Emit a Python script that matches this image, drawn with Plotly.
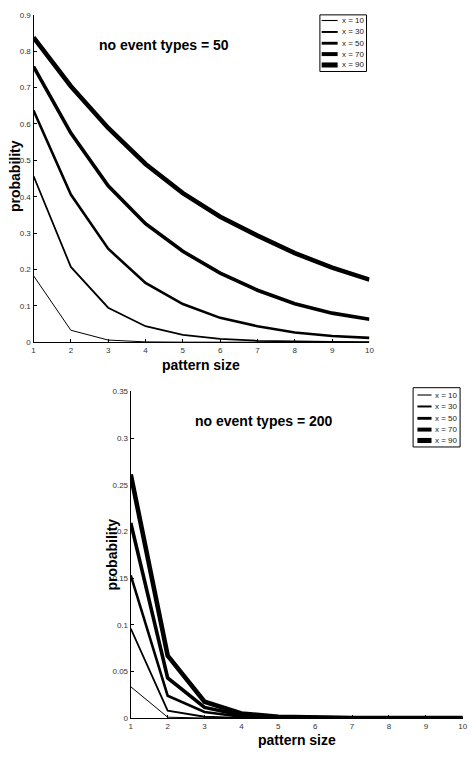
import plotly.graph_objects as go

W, H = 471, 759

pattern_size = [1, 2, 3, 4, 5, 6, 7, 8, 9, 10]
series_names = ["x = 10", "x = 30", "x = 50", "x = 70", "x = 90"]

# no event types = 50
top_x10 = [0.183, 0.033, 0.006, 0.001, 0.0002, 0.0001, 0.0, 0.0, 0.0, 0.0]
top_x30 = [0.457, 0.207, 0.095, 0.044, 0.020, 0.009, 0.004, 0.002, 0.001, 0.0005]
top_x50 = [0.637, 0.406, 0.257, 0.163, 0.105, 0.067, 0.044, 0.027, 0.017, 0.012]
top_x70 = [0.758, 0.575, 0.430, 0.326, 0.250, 0.190, 0.143, 0.106, 0.080, 0.063]
top_x90 = [0.838, 0.704, 0.589, 0.490, 0.410, 0.345, 0.293, 0.245, 0.205, 0.172]

# no event types = 200
bot_x10 = [0.0336, 0.001, 0.0001, 0.0, 0.0, 0.0, 0.0, 0.0, 0.0, 0.0]
bot_x30 = [0.096, 0.008, 0.0015, 0.0002, 0.0, 0.0, 0.0, 0.0, 0.0, 0.0]
bot_x50 = [0.153, 0.024, 0.0065, 0.0015, 0.0004, 0.0001, 0.0, 0.0, 0.0, 0.0]
bot_x70 = [0.209, 0.043, 0.0115, 0.003, 0.0009, 0.0003, 0.0001, 0.0, 0.0, 0.0]
bot_x90 = [0.261, 0.067, 0.0175, 0.005, 0.0015, 0.0005, 0.0002, 0.0001, 0.0, 0.0]

top_ticks = [0, 0.1, 0.2, 0.3, 0.4, 0.5, 0.6, 0.7, 0.8, 0.9]
top_ticklabels = ["0", "0.1", "0.2", "0.3", "0.4", "0.5", "0.6", "0.7", "0.8", "0.9"]
bot_ticks = [0, 0.05, 0.1, 0.15, 0.2, 0.25, 0.3, 0.35]
bot_ticklabels = ["0", "0.05", "0.1", "0.15", "0.2", "0.25", "0.3", "0.35"]

widths = [1.0, 1.8, 2.6, 3.6, 4.6]

NARROW = "Liberation Sans Narrow, Arial Narrow, Liberation Sans, Arial, sans-serif"

def px_x(p):
    return p / W

def px_y(p):
    return 1 - p / H

fig = go.Figure()

top_series = [top_x10, top_x30, top_x50, top_x70, top_x90]
bot_series = [bot_x10, bot_x30, bot_x50, bot_x70, bot_x90]

for name, ys, w in zip(series_names, top_series, widths):
    fig.add_trace(go.Scatter(x=pattern_size, y=ys, mode="lines", name=name,
                             line=dict(color="black", width=w),
                             xaxis="x", yaxis="y", showlegend=False))
for name, ys, w in zip(series_names, bot_series, widths):
    fig.add_trace(go.Scatter(x=pattern_size, y=ys, mode="lines", name=name,
                             line=dict(color="black", width=w),
                             xaxis="x2", yaxis="y2", showlegend=False))

axis_common = dict(showline=True, linecolor="black", linewidth=1.2, ticks="inside",
                   ticklen=3, tickcolor="black", showgrid=False, zeroline=False,
                   tickfont=dict(family=NARROW, size=8, color="#333"), mirror=False)

fig.update_layout(
    width=W, height=H, autosize=False,
    margin=dict(l=0, r=0, t=0, b=0),
    paper_bgcolor="white", plot_bgcolor="white",
    xaxis=dict(domain=[px_x(32), px_x(373)], range=[1, 10], anchor="y",
               tickvals=pattern_size, ticktext=[str(v) for v in pattern_size], **axis_common),
    yaxis=dict(domain=[px_y(342.3), px_y(11)], range=[0, 0.9], anchor="x",
               tickvals=top_ticks, ticktext=top_ticklabels, **axis_common),
    xaxis2=dict(domain=[px_x(130.7), px_x(467.7)], range=[1, 10], anchor="y2",
                tickvals=pattern_size, ticktext=[str(v) for v in pattern_size], **axis_common),
    yaxis2=dict(domain=[px_y(722.7), px_y(392)], range=[0, 0.35], anchor="x2",
                tickvals=bot_ticks, ticktext=bot_ticklabels, **axis_common),
)

annotations = []
def text(x, y, s, size, bold=True, angle=0, xanchor="center"):
    annotations.append(dict(x=px_x(x), y=px_y(y), xref="paper", yref="paper",
                            text=("<b>%s</b>" % s) if bold else s, showarrow=False,
                            textangle=angle, xanchor=xanchor, yanchor="middle",
                            font=dict(family=NARROW, size=size, color="black")))

text(164.5, 41.7, "no event types = 50", 14)
text(265.5, 422, "no event types = 200", 14)
text(13.3, 174, "probability", 14, angle=-90)
text(111.7, 557, "probability", 14, angle=-90)
text(202.5, 365, "pattern size", 14)
text(299, 745, "pattern size", 14)

shapes = []
def legend(x0, y0, x1, y1, lx0, lx1, tx, ys):
    shapes.append(dict(type="rect", xref="paper", yref="paper",
                       x0=px_x(x0), x1=px_x(x1), y0=px_y(y1), y1=px_y(y0),
                       line=dict(color="black", width=1), fillcolor="white"))
    for name, w, yy in zip(series_names, widths, ys):
        shapes.append(dict(type="line", xref="paper", yref="paper",
                           x0=px_x(lx0), x1=px_x(lx1), y0=px_y(yy), y1=px_y(yy),
                           line=dict(color="black", width=w * 1.1)))
        annotations.append(dict(x=px_x(tx), y=px_y(yy), xref="paper", yref="paper",
                                text=name, showarrow=False, xanchor="left", yanchor="middle",
                                font=dict(family=NARROW, size=8, color="#222")))

legend(322.7, 11, 370, 68.3, 324.5, 340.7, 343, [16.7, 28.3, 39.7, 50.7, 61.7])
legend(417.3, 388.3, 465, 448.3, 421.7, 436, 438, [395.7, 407.3, 419.3, 430.7, 441.7])

fig.update_layout(annotations=annotations, shapes=shapes)

fig.write_html("out.html")
